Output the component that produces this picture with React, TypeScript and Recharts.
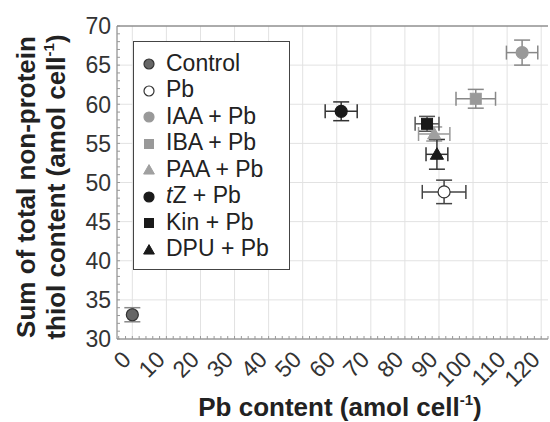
import React from 'react';
import { ScatterChart, Scatter, XAxis, YAxis, CartesianGrid, ErrorBar, Legend, Label } from 'recharts';

// series order as in the legend
const seriesNames = ['Control', 'Pb', 'IAA + Pb', 'IBA + Pb', 'PAA + Pb', 'tZ + Pb', 'Kin + Pb', 'DPU + Pb'];
const pbContent = [0, 91.5, 114.4, 100.8, 88.6, 61.3, 86.5, 89.4];
const pbError = [0.3, 6.4, 4.6, 5.8, 4.6, 4.7, 3.5, 3.2];
const thiolContent = [33.1, 48.8, 66.6, 60.7, 56.2, 59.1, 57.5, 53.6];
const thiolError = [0.9, 1.5, 1.6, 1.2, 0.9, 1.2, 0.95, 1.9];

const xTicks = [0, 10, 20, 30, 40, 50, 60, 70, 80, 90, 100, 110, 120];
const yTicks = [30, 35, 40, 45, 50, 55, 60, 65, 70];
// minor tick marks along the frame
const xMinor = Array.from({ length: 64 }, (_, i) => -4 + i * 2);
const yMinor = Array.from({ length: 41 }, (_, i) => 30 + i);

const X_DOMAIN: [number, number] = [-4.5, 122];
const Y_DOMAIN: [number, number] = [30, 70];

const markers = ['circle', 'circle', 'circle', 'square', 'triangle', 'circle', 'square', 'triangle'];
const fills = ['#666666', '#ffffff', '#999999', '#999999', '#a0a0a0', '#1a1a1a', '#1a1a1a', '#1a1a1a'];
const strokes = ['#333333', '#333333', '#999999', '#999999', '#a0a0a0', '#1a1a1a', '#1a1a1a', '#1a1a1a'];
const errColors = ['#888888', '#444444', '#888888', '#888888', '#999999', '#333333', '#555555', '#333333'];

const FONT = '"Liberation Sans", Arial, sans-serif';

function Marker({ kind, cx, cy, fill, stroke, s }: any) {
  if (kind === 'square') {
    return <rect x={cx - s} y={cy - s} width={s * 2} height={s * 2} fill={fill} stroke={stroke} strokeWidth={1} />;
  }
  if (kind === 'triangle') {
    const h = s * 1.2;
    return (
      <polygon
        points={`${cx},${cy - h} ${cx + h},${cy + h * 0.75} ${cx - h},${cy + h * 0.75}`}
        fill={fill}
        stroke={stroke}
        strokeWidth={1}
      />
    );
  }
  return <circle cx={cx} cy={cy} r={s} fill={fill} stroke={stroke} strokeWidth={1.2} />;
}

const renderLegend = () => (
  <div
    style={{
      width: 157,
      height: 229,
      boxSizing: 'border-box',
      border: '1.5px solid #444',
      background: '#fff',
      paddingTop: 8,
      fontFamily: FONT,
    }}
  >
    {seriesNames.map((name, i) => (
      <div key={name} style={{ height: 26.5, display: 'flex', alignItems: 'center', fontSize: 23, color: '#222' }}>
        <svg width={30} height={26} style={{ flex: 'none' }}>
          <Marker kind={markers[i]} cx={15} cy={14} fill={fills[i]} stroke={strokes[i]} s={markers[i] === 'circle' ? 5 : 4.5} />
        </svg>
        <span style={{ marginLeft: 2, whiteSpace: 'nowrap' }}>
          {name.startsWith('tZ') ? (
            <>
              <i>t</i>
              {name.slice(1)}
            </>
          ) : (
            name
          )}
        </span>
      </div>
    ))}
  </div>
);

// bottom axis: minor mark on every tick, label on the major ones
const XTick = ({ x, y, payload }: any) => (
  <g>
    <line x1={x} y1={y} x2={x} y2={y - 3} stroke="#999" />
    {xTicks.includes(payload.value) && (
      <text
        x={x}
        y={y + 22}
        transform={`rotate(-45, ${x}, ${y + 22})`}
        textAnchor="end"
        fontSize={23}
        fill="#333"
        fontFamily={FONT}
      >
        {payload.value}
      </text>
    )}
  </g>
);

const YTick = ({ x, y, payload }: any) => (
  <g>
    <line x1={x} y1={y} x2={x + 3} y2={y} stroke="#999" />
    {yTicks.includes(payload.value) && (
      <text x={x - 6} y={y} dy="0.36em" textAnchor="end" fontSize={23} fill="#333" fontFamily={FONT}>
        {payload.value}
      </text>
    )}
  </g>
);

const TopTick = ({ x, y }: any) => <line x1={x} y1={y} x2={x} y2={y + 3} stroke="#888" />;

const YTitle = () => (
  <g fontFamily={FONT} fontWeight="bold" fontSize={26} fill="#222">
    <text x={35} y={187} transform="rotate(-90, 35, 187)" textAnchor="middle">
      Sum of total non-protein
    </text>
    <text x={65} y={187} transform="rotate(-90, 65, 187)" textAnchor="middle">
      thiol content (amol cell
      <tspan fontSize={15} dy={-11}>-1</tspan>
      <tspan dy={11}>)</tspan>
    </text>
  </g>
);

const XTitle = () => (
  <text x={340} y={416} textAnchor="middle" fontFamily={FONT} fontWeight="bold" fontSize={26} fill="#222">
    Pb content (amol cell
    <tspan fontSize={15} dy={-11}>-1</tspan>
    <tspan dy={11}>)</tspan>
  </text>
);

export default function App() {
  return (
    <div style={{ position: 'absolute', left: 0, top: 0, background: '#fff', fontFamily: FONT }}>
      <ScatterChart width={550} height={422} margin={{ top: 25, right: 2, left: 0, bottom: 0 }}>
        <CartesianGrid stroke="#e2e2e2" strokeWidth={1} verticalValues={xTicks} horizontalValues={yTicks} />
        <XAxis
          type="number"
          dataKey="x"
          domain={X_DOMAIN}
          ticks={xMinor}
          allowDataOverflow
          interval={0}
          height={83}
          axisLine={{ stroke: '#777' }}
          tickLine={false}
          tickSize={0}
          tickMargin={0}
          tick={<XTick />}
        >
          <Label content={<XTitle />} />
        </XAxis>
        <XAxis
          xAxisId="top"
          orientation="top"
          type="number"
          domain={X_DOMAIN}
          ticks={xMinor}
          allowDataOverflow
          interval={0}
          height={1}
          axisLine={{ stroke: '#666' }}
          tickLine={false}
          tickSize={0}
          tickMargin={0}
          tick={<TopTick />}
        />
        <YAxis
          type="number"
          dataKey="y"
          domain={Y_DOMAIN}
          ticks={yMinor}
          allowDataOverflow
          interval={0}
          width={117}
          axisLine={{ stroke: '#777' }}
          tickLine={false}
          tickSize={0}
          tickMargin={0}
          tick={<YTick />}
        >
          <Label content={<YTitle />} />
        </YAxis>
        <Legend
          layout="vertical"
          align="center"
          verticalAlign="middle"
          wrapperStyle={{ left: 133, top: 41, width: 157 }}
          content={renderLegend}
        />
        {seriesNames.map((name, i) => (
          <Scatter
            key={name}
            name={name}
            data={[{ x: pbContent[i], y: thiolContent[i], ex: pbError[i], ey: thiolError[i] }]}
            isAnimationActive={false}
            shape={(p: any) => (
              <Marker kind={markers[i]} cx={p.cx} cy={p.cy} fill={fills[i]} stroke={strokes[i]} s={markers[i] === 'circle' ? 6 : 5.5} />
            )}
          >
            <ErrorBar dataKey="ex" direction="x" width={7} stroke={errColors[i]} strokeWidth={1.5} isAnimationActive={false} />
            <ErrorBar dataKey="ey" direction="y" width={8} stroke={errColors[i]} strokeWidth={1.5} isAnimationActive={false} />
          </Scatter>
        ))}
      </ScatterChart>
    </div>
  );
}
